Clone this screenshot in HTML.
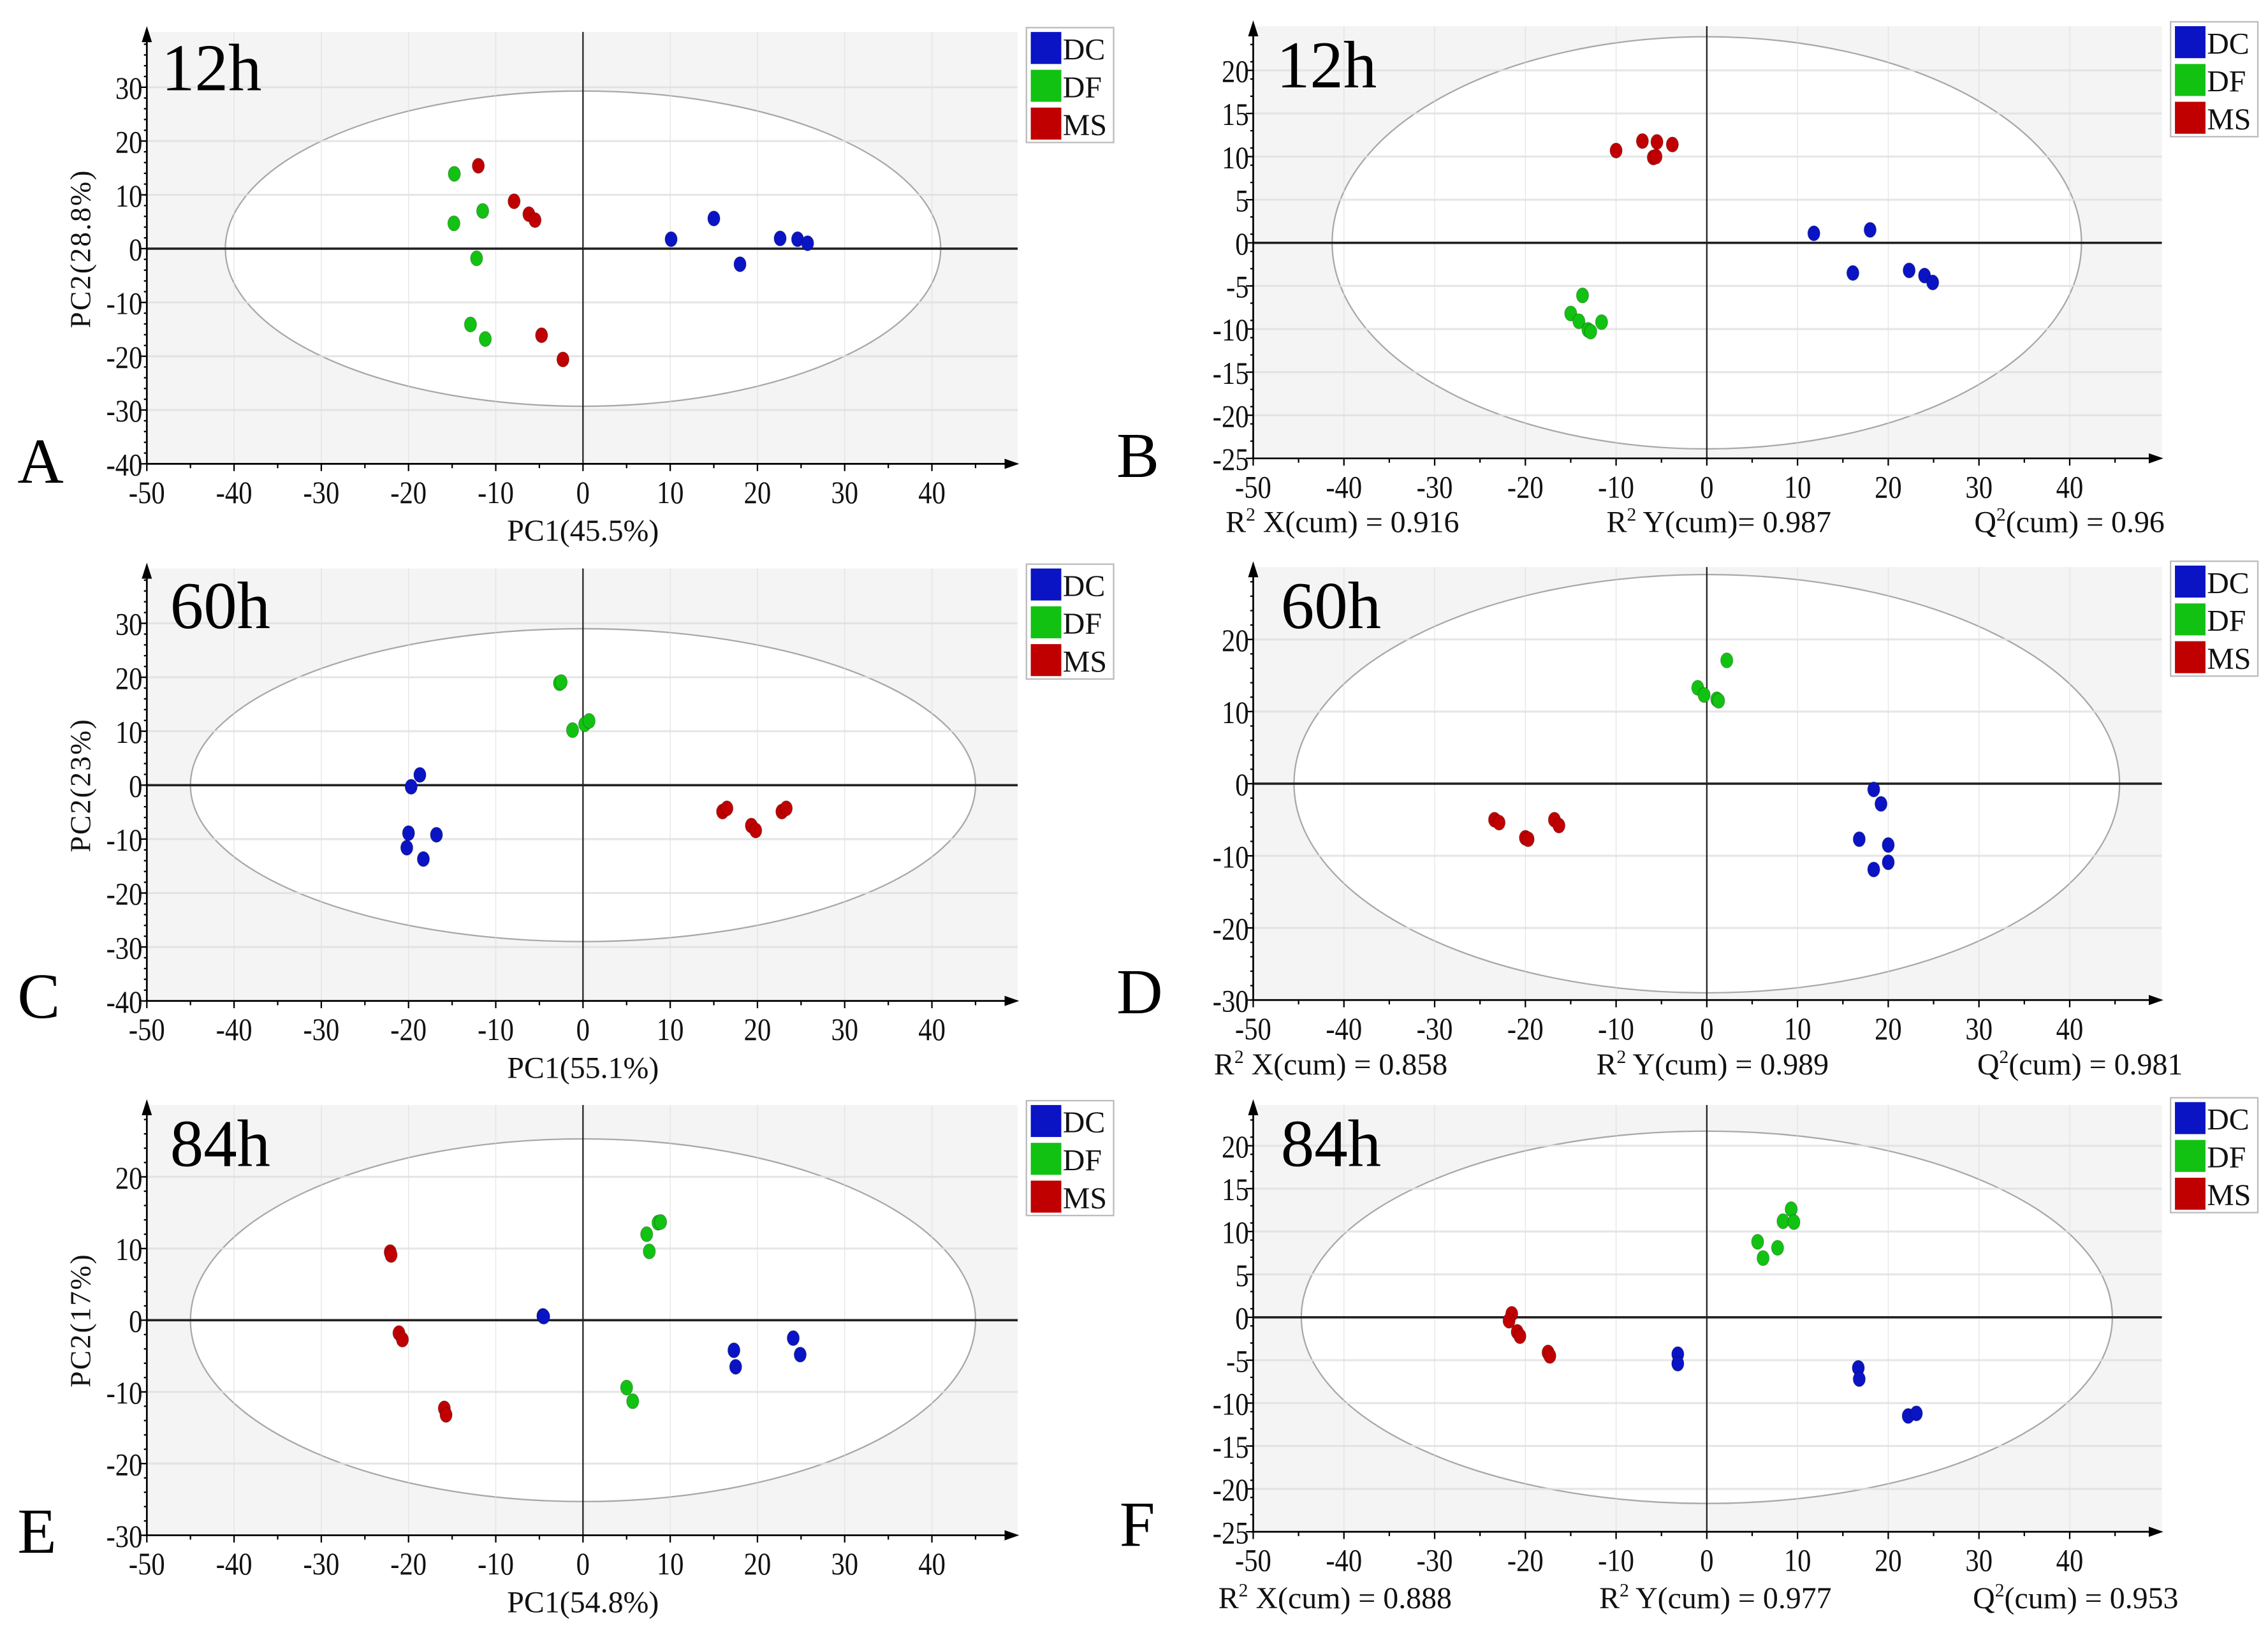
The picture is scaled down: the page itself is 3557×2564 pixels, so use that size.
<!DOCTYPE html>
<html><head><meta charset="utf-8"><style>
html,body{margin:0;padding:0;background:#fff;}
svg{display:block;font-family:"Liberation Serif",serif;}
svg text{font-family:"Liberation Serif",serif;}
</style></head><body>
<svg id="fig" xmlns="http://www.w3.org/2000/svg" width="3557" height="2564" viewBox="0 0 1560 1124.5" font-family="Liberation Serif, serif"></svg>
<script>
// ---- data (PC1, PC2 scores) ----
const groups = ["DC","DF","MS"];
const A_DC_x=[10.1,15,22.6,24.6,25.75,18], A_DC_y=[1.75,5.6,1.9,1.75,1.0,-2.9];
const A_DF_x=[-14.75,-14.8,-11.5,-12.2,-12.9,-11.2], A_DF_y=[13.9,4.7,7.0,-1.8,-14.1,-16.8];
const A_MS_x=[-12,-7.9,-6.2,-5.5,-4.75,-2.3], A_MS_y=[15.4,8.8,6.4,5.3,-16.1,-20.6];
const B_DC_x=[11.8,18,16.1,22.3,24,24.9], B_DC_y=[1.1,1.5,-3.5,-3.2,-3.8,-4.6];
const B_DF_x=[-13.7,-15,-14.1,-13.1,-12.8,-11.6], B_DF_y=[-6.1,-8.2,-9.1,-10.1,-10.3,-9.2];
const B_MS_x=[-10,-7.1,-5.5,-3.8,-5.9,-5.6], B_MS_y=[10.7,11.8,11.7,11.4,9.9,10.0];
const C_DC_x=[-18.7,-19.7,-20,-20.2,-16.8,-18.3], C_DC_y=[1.9,-0.3,-8.9,-11.6,-9.2,-13.7];
const C_DF_x=[-2.7,-2.5,-1.2,0.2,0.7], C_DF_y=[18.9,19.1,10.2,11.3,11.9];
const C_MS_x=[16,16.5,19.3,19.8,22.8,23.3], C_MS_y=[-4.9,-4.3,-7.5,-8.4,-4.9,-4.3];
const D_DC_x=[18.4,19.2,16.8,20,18.4,20], D_DC_y=[-0.8,-2.8,-7.7,-8.5,-11.9,-10.9];
const D_DF_x=[-1,-0.3,1.1,1.3,2.2], D_DF_y=[13.3,12.3,11.7,11.5,17.1];
const D_MS_x=[-23.4,-22.9,-20,-19.7,-16.8,-16.3], D_MS_y=[-5,-5.4,-7.5,-7.7,-5,-5.8];
const E_DC_x=[-4.6,17.3,17.5,24.1,24.9,-4.5], E_DC_y=[0.6,-4.2,-6.5,-2.5,-4.8,0.5];
const E_DF_x=[7.3,7.6,8.6,8.9,5,5.7], E_DF_y=[12,9.6,13.6,13.7,-9.4,-11.3];
const E_MS_x=[-22.1,-22,-21.1,-20.7,-15.9,-15.7], E_MS_y=[9.5,9.1,-1.8,-2.7,-12.3,-13.2];
const F_DC_x=[-3.2,-3.2,16.7,16.8,22.2,23.1], F_DC_y=[-4.3,-5.4,-5.9,-7.2,-11.5,-11.2];
const F_DF_x=[9.3,8.4,9.6,5.6,7.8,6.2], F_DF_y=[12.6,11.2,11.1,8.8,8.1,6.9];
const F_MS_x=[-21.5,-21.8,-20.9,-20.6,-17.5,-17.3], F_MS_y=[0.4,-0.4,-1.7,-2.2,-4.1,-4.5];
const xTickLabels=[-50,-40,-30,-20,-10,0,10,20,30,40];
const yTicksA=[-40,-30,-20,-10,0,10,20,30];
const yTicksB=[-25,-20,-15,-10,-5,0,5,10,15,20];
const yTicksD=[-30,-20,-10,0,10,20];
const yTicksF=[-25,-20,-15,-10,-5,0,5,10,15,20];
const timeLabels=["12h","12h","60h","60h","84h","84h"];
const panelLetters=["A","B","C","D","E","F"];
const xTitles=["PC1(45.5%)","","PC1(55.1%)","","PC1(54.8%)",""];
const yTitles=["PC2(28.8%)","","PC2(23%)","","PC2(17%)",""];
const statsB=["0.916","0.987","0.96"], statsD=["0.858","0.989","0.981"], statsF=["0.888","0.977","0.953"];
const ellA=[41,29.3], ellB=[41.3,23.9], ellC=[45,29], ellD=[45.5,29], ellE=[45,25.3], ellF=[44.7,21.7];

const colors={DC:"#0a14c4",DF:"#12c212",MS:"#c00000"};
const FONT="Liberation Serif, serif";
const NS="http://www.w3.org/2000/svg";
const svg=document.getElementById('fig');
function mk(tag,attrs,parent){const e=document.createElementNS(NS,tag);for(const k in attrs)e.setAttribute(k,attrs[k]);if(tag==='text')e.setAttribute('font-family',FONT);(parent||svg).appendChild(e);return e;}

const panels=[
 {id:"a",xL:101,xPer:6.0,xR:700,y0:171,yPer:3.7,ticks:yTicksA,top:22,ell:ellA,data:[[A_DC_x,A_DC_y],[A_DF_x,A_DF_y],[A_MS_x,A_MS_y]],leg:[706,19],lx:12,ly:332,tx:111,ty:62,stats:null,sy:0},
 {id:"b",xL:862,xPer:6.24,xR:1487,y0:167,yPer:5.93,ticks:yTicksB,top:18,ell:ellB,data:[[B_DC_x,B_DC_y],[B_DF_x,B_DF_y],[B_MS_x,B_MS_y]],leg:[1493,15],lx:768,ly:328,tx:878,ty:60,stats:statsB,sy:366,sx:[843,1105,1358]},
 {id:"c",xL:101,xPer:6.0,xR:700,y0:540,yPer:3.71,ticks:yTicksA,top:391,ell:ellC,data:[[C_DC_x,C_DC_y],[C_DF_x,C_DF_y],[C_MS_x,C_MS_y]],leg:[706,388],lx:12,ly:700,tx:117,ty:432,stats:null,sy:0},
 {id:"d",xL:862,xPer:6.24,xR:1487,y0:539,yPer:4.96,ticks:yTicksD,top:390,ell:ellD,data:[[D_DC_x,D_DC_y],[D_DF_x,D_DF_y],[D_MS_x,D_MS_y]],leg:[1493,386],lx:768,ly:697,tx:881,ty:432,stats:statsD,sy:739,sx:[835,1098,1360]},
 {id:"e",xL:101,xPer:6.0,xR:700,y0:908,yPer:4.93,ticks:yTicksD,top:760,ell:ellE,data:[[E_DC_x,E_DC_y],[E_DF_x,E_DF_y],[E_MS_x,E_MS_y]],leg:[706,757],lx:12,ly:1068,tx:117,ty:802,stats:null,sy:0},
 {id:"f",xL:862,xPer:6.24,xR:1487,y0:906,yPer:5.9,ticks:yTicksF,top:760,ell:ellF,data:[[F_DC_x,F_DC_y],[F_DF_x,F_DF_y],[F_MS_x,F_MS_y]],leg:[1493,755],lx:770,ly:1063,tx:881,ty:802,stats:statsF,sy:1106,sx:[838,1100,1357]}
];

panels.forEach((p,i)=>{
  const g=mk('g',{});
  
  
  const X=v=>p.xL+(v+50)*p.xPer;
  const Y=v=>p.y0-v*p.yPer;
  const yMin=p.ticks[0];
  const bottom=Y(yMin);
  const bg=mk('rect',{x:p.xL,y:p.top,width:p.xR-p.xL,height:bottom-p.top,fill:"#f4f4f4"},g);
  
  
  const el=mk('ellipse',{cx:X(0),cy:Y(0),rx:p.ell[0]*p.xPer,ry:p.ell[1]*p.yPer,fill:"#fff",stroke:"#a8a8a8","stroke-width":1},g);
  
  
  xTickLabels.forEach(t=>{
    const gl=mk('line',{x1:X(t),x2:X(t),y1:p.top,y2:bottom,stroke:"#dcdcdc","stroke-width":0.6,opacity:0.7},g);
    
    
  });
  p.ticks.forEach(t=>{
    const gl=mk('line',{x1:p.xL,x2:p.xR,y1:Y(t),y2:Y(t),stroke:"#e0e0e0","stroke-width":1.4,opacity:0.8},g);
    
    
  });
  const zx=mk('line',{x1:p.xL,x2:p.xR,y1:Y(0),y2:Y(0),stroke:"#222","stroke-width":1.6},g);
  
  
  const zy=mk('line',{x1:X(0),x2:X(0),y1:p.top,y2:bottom,stroke:"#222","stroke-width":1},g);
  
  
  const xa=mk('line',{x1:p.xL,x2:p.xR-4,y1:bottom,y2:bottom,stroke:"#000","stroke-width":1.2},g);
  
  
  mk('polygon',{points:`${p.xR+1},${bottom} ${p.xR-9},${bottom-3.5} ${p.xR-9},${bottom+3.5}`,fill:"#000"},g);
  const ya=mk('line',{x1:p.xL,x2:p.xL,y1:p.top+4,y2:bottom,stroke:"#000","stroke-width":1.2},g);
  
  
  mk('polygon',{points:`${p.xL},${p.top-4} ${p.xL-3.5},${p.top+7} ${p.xL+3.5},${p.top+7}`,fill:"#000"},g);
  for(let v=-50;v<=45;v+=5){
    mk('line',{x1:X(v),x2:X(v),y1:bottom,y2:bottom+(v%10===0?5:3),stroke:"#000","stroke-width":1},g);
  }
  xTickLabels.forEach(t=>{
    const tx=mk('text',{x:0,y:0,"font-size":22,"text-anchor":"middle",fill:"#111",transform:`translate(${X(t)},${bottom+27}) scale(0.85,1)`},g);
    tx.textContent=t;
    
    
  });
  const step=p.ticks[1]-p.ticks[0];
  const minor=step/(step===5?2.5:5);
  for(let v=p.ticks[0];v<=p.ticks[p.ticks.length-1]+step*0.9;v+=minor){
    const yy=Y(v); if(yy<p.top+8) break;
    mk('line',{x1:p.xL-2,x2:p.xL,y1:yy,y2:yy,stroke:"#000","stroke-width":1},g);
  }
  p.ticks.forEach(t=>{
    mk('line',{x1:p.xL-5,x2:p.xL,y1:Y(t),y2:Y(t),stroke:"#000","stroke-width":1},g);
    const ty=mk('text',{x:0,y:0,"font-size":22,"text-anchor":"end",fill:"#111",transform:`translate(${p.xL-3},${Y(t)+8}) scale(0.85,1)`},g);
    ty.textContent=t;
    
    
  });
  p.data.forEach((d,gi)=>{
    d[0].forEach((xv,k)=>{
      const c=mk('ellipse',{cx:X(xv),cy:Y(d[1][k]),rx:4.2,ry:5.2,fill:colors[groups[gi]],stroke:"rgba(0,0,0,0.25)","stroke-width":0.5},g);
      
      
    });
  });
  const tl=mk('text',{x:p.tx,y:p.ty,"font-size":46,fill:"#000"},g);
  tl.textContent=timeLabels[i];
  
  
  const pl=mk('text',{x:p.lx,y:p.ly,"font-size":44,fill:"#000"},g);
  pl.textContent=panelLetters[i];
  
  
  const lg=mk('g',{},g);
  
  
  mk('rect',{x:p.leg[0],y:p.leg[1],width:60,height:79,fill:"#fff",stroke:"#bbb","stroke-width":1},lg);
  groups.forEach((gname,gi)=>{
    const yy=p.leg[1]+3+gi*26;
    const sw=mk('rect',{x:p.leg[0]+3,y:yy,width:21,height:22,fill:colors[gname]},lg);
    
    
    const lt=mk('text',{x:p.leg[0]+25,y:yy+19,"font-size":21,fill:"#111"},lg);
    lt.textContent=gname;
    
    
  });
  if(xTitles[i]){
    const xt=mk('text',{x:X(0),y:bottom+53,"font-size":21,"text-anchor":"middle",fill:"#111"},g);
    xt.textContent=xTitles[i];
    
    
  }
  if(yTitles[i]){
    const yt=mk('text',{x:0,y:0,"font-size":20,"text-anchor":"middle",fill:"#111","letter-spacing":1,transform:`translate(62,${Y(0)}) rotate(-90)`},g);
    yt.textContent=yTitles[i];
    
    
  }
  if(p.stats){
    const lbl=[["R","2"," X(cum) = "],["R","2"," Y(cum) = "],["Q","2","(cum) = "]];
    if(p.id==="b") lbl[1][2]=" Y(cum)= ";
    lbl.forEach((l,k)=>{
      const st=mk('text',{x:p.sx[k],y:p.sy,"font-size":21,fill:"#111"},g);
      
      
      const a=mk('tspan',{},st); a.textContent=l[0];
      const b=mk('tspan',{dy:-8,"font-size":13},st); b.textContent=l[1];
      const c=mk('tspan',{dy:8},st); c.textContent=l[2]+p.stats[k];
    });
  }
});
</script>
</body></html>
